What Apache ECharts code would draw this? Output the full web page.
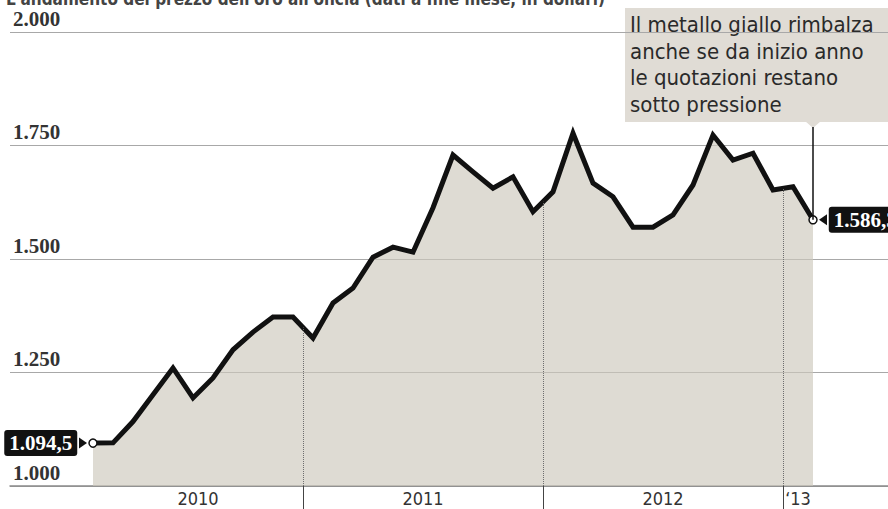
<!DOCTYPE html>
<html>
<head>
<meta charset="utf-8">
<script src="https://cdn.jsdelivr.net/npm/echarts@6/dist/echarts.min.js"></script>
<style>
  html, body { margin: 0; padding: 0; background: #fff; }
  #chart { width: 888px; height: 509px; }
</style>
</head>
<body>
<div id="chart"></div>
<script>
// prezzo dell'oro, dati a fine mese (dollari per oncia)
const mesi = [
  "2010-02", "2010-03", "2010-04", "2010-05", "2010-06", "2010-07", "2010-08", "2010-09", "2010-10", "2010-11", "2010-12",
  "2011-01", "2011-02", "2011-03", "2011-04", "2011-05", "2011-06", "2011-07", "2011-08", "2011-09", "2011-10", "2011-11", "2011-12",
  "2012-01", "2012-02", "2012-03", "2012-04", "2012-05", "2012-06", "2012-07", "2012-08", "2012-09", "2012-10", "2012-11", "2012-12",
  "2013-01", "2013-02"
];
const prezzi = [
  1094.5, 1095, 1142, 1201, 1260, 1194, 1238, 1300, 1339, 1372, 1372,
  1326, 1403, 1436, 1504, 1526, 1515, 1613, 1729, 1692, 1656, 1681, 1604,
  1648, 1777, 1667, 1637, 1570, 1570, 1597, 1663, 1773, 1718, 1733, 1652,
  1659, 1586.3
];
const anniConfine = [2011, 2012, 2013];
const anni = [2010, 2011, 2012, 2013];
const anniEtichette = ["2010", "2011", "2012", "\u201813"];
const yMin = 1000, yMax = 2000, yPasso = 250;
const nota = [
  "Il metallo giallo rimbalza",
  "anche se da inizio anno",
  "le quotazioni restano",
  "sotto pressione"
];
const titolo = "L'andamento del prezzo dell'oro all'oncia (dati a fine mese, in dollari)";
const SANS = "'Liberation Sans Narrow', 'DejaVu Sans Condensed', Lato, sans-serif";

// mesi dal 1 gennaio 2010, a metà mese
function mese2t(m) {
  const [a, mm] = m.split("-").map(Number);
  return (a - 2010) * 12 + (mm - 1) + 0.5;
}
function fmtIt(v, dec) {
  const s = v.toFixed(dec);
  const parts = s.split(".");
  const int = parts[0].replace(/\B(?=(\d{3})+(?!\d))/g, ".");
  return parts[1] ? int + "," + parts[1] : int;
}

const ts = mesi.map(mese2t);
const tFirst = ts[0], tLast = ts[ts.length - 1];
const confiniT = anniConfine.map(a => (a - 2010) * 12);
const etichetteT = anni.map(a => {
  const lo = Math.max((a - 2010) * 12, tFirst);
  const hi = Math.min((a - 2010) * 12 + 12, tLast);
  return (lo + hi) / 2;
});

const boxLabel = {
  show: true,
  formatter: p => fmtIt(p.value[1], 1),
  backgroundColor: "#111",
  color: "#fff",
  fontFamily: "Liberation Serif",
  fontWeight: "bold",
  fontSize: 21,
  lineHeight: 21,
  padding: [3, 5, 2, 5],
  borderRadius: 3,
  distance: 11
};

const serie = prezzi.map((v, i) => {
  const item = { value: [ts[i], v] };
  if (i === 0) item.label = Object.assign({}, boxLabel, { position: "left" });
  if (i === prezzi.length - 1) item.label = Object.assign({}, boxLabel, { position: "right" });
  return item;
});

// separatori d'anno tratteggiati, fino alla linea
const separatori = confiniT.map(t => {
  const k = ts.findIndex(x => x > t);
  const vTop = (prezzi[k - 1] + prezzi[k]) / 2;
  return [
    { coord: [t, yMin], lineStyle: { type: "dotted", color: "#6e6e6e", width: 1 } },
    { coord: [t, vTop] }
  ];
});
const NOTA_Y = 1791;
const lineaNota = [
  { coord: [tLast, prezzi[prezzi.length - 1]], lineStyle: { type: "solid", color: "#111", width: 1.5 } },
  { coord: [tLast, NOTA_Y] }
];

const chart = echarts.init(document.getElementById("chart"), null, { renderer: "svg" });
chart.setOption({
  animation: false,
  backgroundColor: "#fff",
  grid: { left: 10, right: 0, top: 32, bottom: 23 },
  xAxis: {
    type: "value",
    min: (10 - 63) / 20,
    max: (888 - 63) / 20,
    axisLine: { show: true, lineStyle: { color: "#8a8a8a", width: 1.5 } },
    axisTick: { show: true, customValues: confiniT, length: 23, lineStyle: { color: "#444", width: 1 } },
    axisLabel: {
      customValues: etichetteT,
      formatter: v => {
        const i = etichetteT.findIndex(x => Math.abs(x - v) < 1e-6);
        return i >= 0 ? anniEtichette[i] : "";
      },
      color: "#333",
      fontSize: 18,
      fontFamily: SANS,
      margin: 3
    },
    splitLine: { show: false }
  },
  yAxis: {
    type: "value",
    min: yMin,
    max: yMax,
    interval: yPasso,
    axisLine: { show: false },
    axisTick: { show: false },
    axisLabel: {
      inside: true,
      margin: 3,
      verticalAlign: "bottom",
      padding: [0, 0, 3, 0],
      formatter: v => fmtIt(v, 0),
      color: "#333",
      fontFamily: "Liberation Serif",
      fontWeight: "bold",
      fontSize: 21
    },
    splitLine: { show: true, lineStyle: { color: "#a8a8a8", width: 1 } }
  },
  series: [{
    type: "line",
    data: serie,
    symbol: (val, p) => (p.dataIndex === 0 || p.dataIndex === prezzi.length - 1) ? "circle" : "none",
    symbolSize: 8,
    showSymbol: true,
    itemStyle: { color: "#fff", borderColor: "#111", borderWidth: 1.5 },
    lineStyle: { color: "#111", width: 5, join: "miter" },
    areaStyle: { color: "rgb(205, 199, 187)", opacity: 0.65, origin: "start" },
    markLine: {
      silent: true,
      symbol: ["none", "none"],
      label: { show: false },
      data: separatori.concat([lineaNota])
    },
    markPoint: {
      silent: true,
      label: { show: false },
      itemStyle: { color: "#111" },
      data: [
        { coord: [tFirst, prezzi[0]], symbol: "triangle", symbolRotate: -90, symbolSize: [11, 8], symbolOffset: [-10, 0] },
        { coord: [tLast, prezzi[prezzi.length - 1]], symbol: "triangle", symbolRotate: 90, symbolSize: [11, 8], symbolOffset: [10, 0] }
      ]
    }
  }],
  graphic: [
    {
      // titolo, tagliato dal bordo superiore come nell'originale
      type: "text",
      x: 6,
      y: 7,
      z: 100,
      style: {
        text: titolo,
        fontFamily: SANS,
        fontWeight: "bold",
        fontSize: 17,
        fill: "#444",
        verticalAlign: "bottom"
      }
    },
    {
      type: "group",
      z: 100,
      children: [
        { type: "rect", shape: { x: 625, y: 8, width: 270, height: 114 }, style: { fill: "#e0dcd5" } },
        { type: "polygon", shape: { points: [[805, 121], [821, 121], [813, 128]] }, style: { fill: "#e0dcd5" } },
        {
          type: "text",
          x: 630,
          y: 11,
          style: {
            text: nota.join("\n"),
            fontFamily: SANS,
            fontSize: 22,
            lineHeight: 26.7,
            fill: "#2a2a2a",
            verticalAlign: "top"
          }
        }
      ]
    }
  ]
});
</script>
</body>
</html>
